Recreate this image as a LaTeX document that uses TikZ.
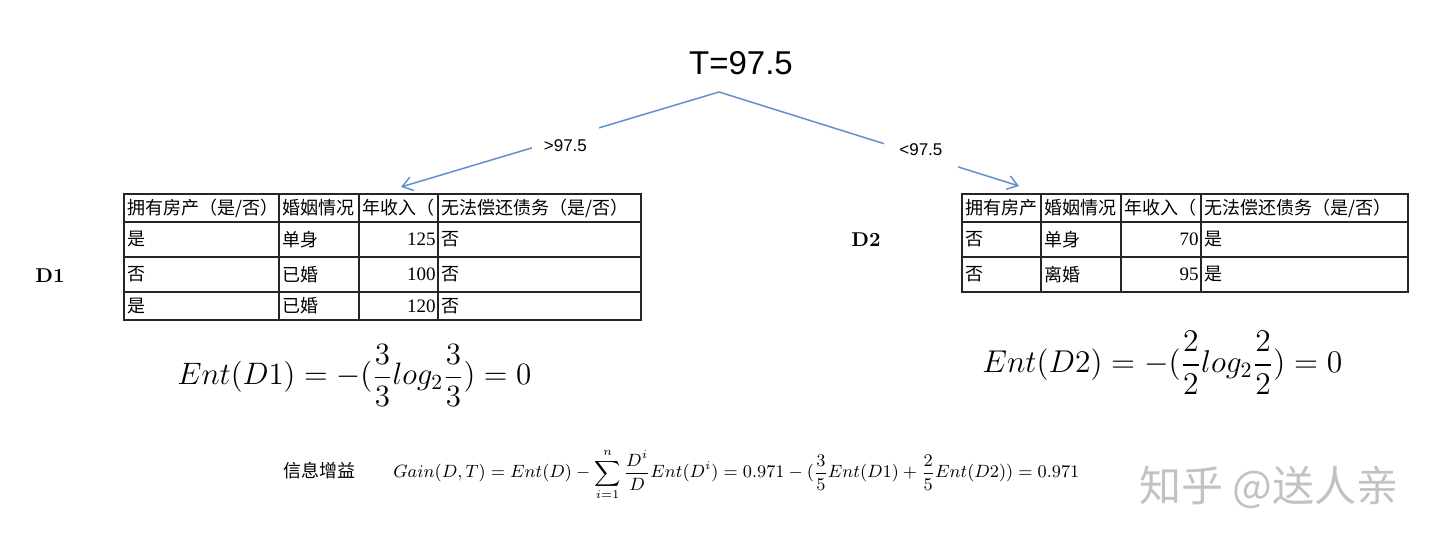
\documentclass[tikz,border=0pt]{standalone}
\usepackage{amsmath}
\usepackage{fontspec}
\newfontfamily\cjk{Noto Sans CJK SC}
\newfontfamily\arial{Liberation Sans}
\newfontfamily\serifnum{Liberation Serif}
\usetikzlibrary{arrows.meta}
\definecolor{linkblue}{RGB}{96,145,202}

\begin{document}
\begin{tikzpicture}[
  x = 0.5pt, y = -0.5pt,
  branch/.style = {draw = linkblue, line width = 0.75pt, -{Straight Barb[length = 5pt, width = 7pt]}},
  cut/.style = {fill = white, inner sep = 0pt, font = \arial\fontsize{8.5}{10}\selectfont},
  grid/.style = {draw = black!85, line width = 0.7pt},
  cell/.style = {anchor = west, inner sep = 0pt, font = \cjk\fontsize{9}{10}\selectfont},
  num/.style = {anchor = east, inner sep = 0pt, font = \serifnum\fontsize{9.5}{10}\selectfont},
  setname/.style = {font = \bfseries\fontsize{10}{12}\selectfont},
  formula/.style = {anchor = base west, inner sep = 0pt},
  ]
  \useasboundingbox (0,0) rectangle (1440,544);

  % split node and the two branches
  \node[font = \arial\fontsize{16.5}{18}\selectfont] (root) at (741,63) {T=97.5};
  \coordinate (top) at (719,92);
  \coordinate (ltip) at (401,187);
  \coordinate (rtip) at (1019,186);
  \draw[branch] (top) -- node[cut, pos = 0.483, yshift = -3.8pt,
    minimum width = 33.5pt, minimum height = 19pt] (gt) {>97.5} (ltip);
  \draw[branch] (top) -- node[cut, pos = 0.673, yshift = 2.65pt,
    minimum width = 37pt, minimum height = 19pt] (lt) {<97.5} (rtip);

  % table D1
  \node[setname] (d1) at (50,276) {D1};
  \draw[grid] (124,194) rectangle (641,320);
  \foreach \x in {279,359,438} \draw[grid] (\x,194) -- (\x,320);
  \foreach \y in {222,257,292} \draw[grid] (124,\y) -- (641,\y);
  \node[cell] (d1h1) at (127,208) {拥有房产（是/否）};
  \node[cell] (d1h2) at (282,208) {婚姻情况};
  \node[cell] (d1h3) at (362,208) {年收入（};
  \node[cell] (d1h4) at (441,208) {无法偿还债务（是/否）};
  \foreach \y/\a/\b/\n/\c [count = \i] in
    {239.5/是/单身/125/否, 274.5/否/已婚/100/否, 306/是/已婚/120/否} {
    \node[cell] (d1r\i a) at (127,\y) {\a};
    \node[cell] (d1r\i b) at (282,\y) {\b};
    \node[num] (d1r\i c) at (436,\y) {\n};
    \node[cell] (d1r\i d) at (441,\y) {\c};
  }

  % table D2
  \node[setname] (d2) at (866,240) {D2};
  \draw[grid] (962,194) rectangle (1408,292);
  \foreach \x in {1041,1121,1201} \draw[grid] (\x,194) -- (\x,292);
  \foreach \y in {222,257} \draw[grid] (962,\y) -- (1408,\y);
  \node[cell] (d2h1) at (965,208) {拥有房产};
  \node[cell] (d2h2) at (1044,208) {婚姻情况};
  \node[cell] (d2h3) at (1124,208) {年收入（};
  \node[cell] (d2h4) at (1204,208) {无法偿还债务（是/否）};
  \foreach \y/\a/\b/\n/\c [count = \i] in
    {239.5/否/单身/70/是, 274.5/否/离婚/95/是} {
    \node[cell] (d2r\i a) at (965,\y) {\a};
    \node[cell] (d2r\i b) at (1044,\y) {\b};
    \node[num] (d2r\i c) at (1199,\y) {\n};
    \node[cell] (d2r\i d) at (1204,\y) {\c};
  }

  % entropies and gain
  \node[formula, font = \fontsize{14.4}{17}\selectfont] (ent1) at (177,385)
    {\scalebox{1.076}{$Ent(D1) = -(\dfrac{3}{3} log_2 \dfrac{3}{3}) = 0$}};
  \node[formula, font = \fontsize{14.4}{17}\selectfont] (ent2) at (982,373)
    {\scalebox{1.094}{$Ent(D2) = -(\dfrac{2}{2} log_2 \dfrac{2}{2}) = 0$}};
  \node[formula, font = \cjk\fontsize{9}{10}\selectfont] (gainlbl) at (283,478) {信息增益};
  \node[formula, font = \fontsize{9}{10}\selectfont] (gain) at (393,478)
    {\scalebox{0.988}{$\displaystyle Gain(D,T) = Ent(D) - \sum_{i=1}^{n} \frac{D^i}{D} Ent(D^i) = 0.971 - (\frac{3}{5} Ent(D1) + \frac{2}{5} Ent(D2)) = 0.971$}};

  \node[font = \cjk\fontsize{21}{24}\selectfont, text = black!24] (mark) at (1269,487) {知乎 @送人亲};
\end{tikzpicture}
\end{document}
